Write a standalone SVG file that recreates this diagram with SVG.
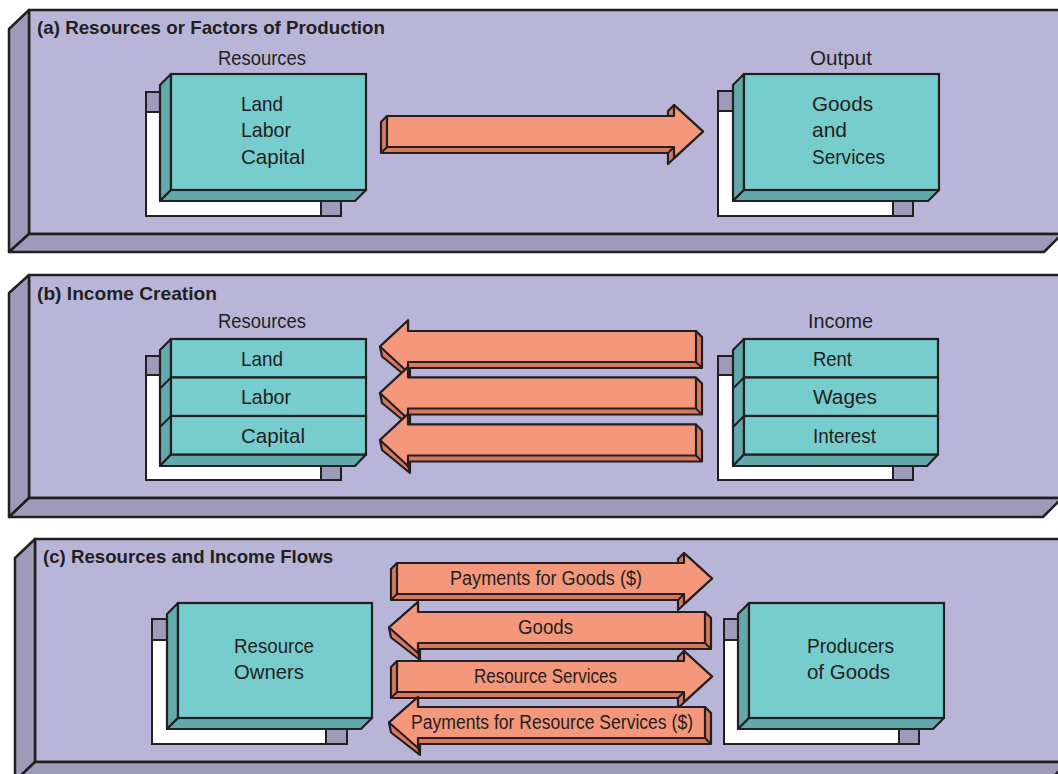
<svg xmlns="http://www.w3.org/2000/svg" width="1058" height="774" viewBox="0 0 1058 774">
<style>
.face{fill:#b9b5d9;stroke:#231f20;stroke-width:2.5}
.bev{fill:#9e9aba;stroke:#231f20;stroke-width:2.5;stroke-linejoin:round}
.sh{fill:#ffffff;stroke:#231f20;stroke-width:2}
.pq{fill:#9e9aba;stroke:#231f20;stroke-width:2}
.bf{fill:#77cccd;stroke:#231f20;stroke-width:2.2}
.bs{fill:#62a9ab;stroke:#231f20;stroke-width:2.2;stroke-linejoin:round}
.ln{fill:none;stroke:#231f20;stroke-width:2}
.af{fill:#f5977b;stroke:#231f20;stroke-width:2.2;stroke-linejoin:round}
.as{fill:#d8795f;stroke:#231f20;stroke-width:2.2;stroke-linejoin:round}
.t{font-family:"Liberation Sans",Arial,sans-serif;fill:#231f20}
.title{font-weight:bold;font-size:19px}
.lbl{font-size:20px}
.bx{font-size:21px}
.al{font-size:20px}
</style>
<rect width="1058" height="774" fill="#ffffff"/>

<!-- Panel (a) -->
<g id="panel-a">
<rect class="face" x="29" y="10" width="1033" height="224"/>
<polygon class="bev" points="29,10 9,29 9,252 29,234"/>
<polygon class="bev" points="29,234 1062,234 1044,252 9,252"/>
<text class="t title" x="37" y="34" textLength="348" lengthAdjust="spacingAndGlyphs">(a) Resources or Factors of Production</text>
</g>

<g id="node-a-resources">
<text class="t lbl" x="218" y="65" textLength="88" lengthAdjust="spacingAndGlyphs">Resources</text>
<rect class="sh" x="146" y="92" width="195" height="124"/>
<rect class="pq" x="146" y="92" width="14" height="20"/>
<rect class="pq" x="321" y="201" width="20" height="15"/>
<polygon class="bs" points="171,74 160,85 160,201 171,190"/>
<polygon class="bs" points="171,190 366,190 355,201 160,201"/>
<rect class="bf" x="171" y="74" width="195" height="116"/>
<text class="t bx" x="241" y="111" textLength="42" lengthAdjust="spacingAndGlyphs">Land</text>
<text class="t bx" x="241" y="137" textLength="50" lengthAdjust="spacingAndGlyphs">Labor</text>
<text class="t bx" x="241" y="164" textLength="64" lengthAdjust="spacingAndGlyphs">Capital</text>
</g>

<g id="node-a-output">
<text class="t lbl" x="810" y="65" textLength="62" lengthAdjust="spacingAndGlyphs">Output</text>
<rect class="sh" x="718" y="91" width="195" height="125"/>
<rect class="pq" x="718" y="91" width="15" height="20"/>
<rect class="pq" x="893" y="201" width="20" height="15"/>
<polygon class="bs" points="744,74 733,85 733,201 744,190"/>
<polygon class="bs" points="744,190 939,190 928,201 733,201"/>
<rect class="bf" x="744" y="74" width="195" height="116"/>
<text class="t bx" x="812" y="111" textLength="61" lengthAdjust="spacingAndGlyphs">Goods</text>
<text class="t bx" x="812" y="137" textLength="35" lengthAdjust="spacingAndGlyphs">and</text>
<text class="t bx" x="812" y="164" textLength="73" lengthAdjust="spacingAndGlyphs">Services</text>
</g>

<!-- Panel (b) -->
<g id="panel-b">
<rect class="face" x="29" y="275" width="1033" height="223"/>
<polygon class="bev" points="29,275 9,293 9,517 29,498"/>
<polygon class="bev" points="29,498 1062,498 1043,517 9,517"/>
<text class="t title" x="37" y="300" textLength="180" lengthAdjust="spacingAndGlyphs">(b) Income Creation</text>
</g>

<g id="node-b-resources">
<text class="t lbl" x="218" y="328" textLength="88" lengthAdjust="spacingAndGlyphs">Resources</text>
<rect class="sh" x="146" y="356" width="195" height="124"/>
<rect class="pq" x="146" y="356" width="14" height="19"/>
<rect class="pq" x="321" y="466" width="20" height="14"/>
<polygon class="bs" points="171,339 160,350 160,466 171,454.5"/>
<line class="ln" x1="171" y1="377.5" x2="160" y2="388.5"/>
<line class="ln" x1="171" y1="416" x2="160" y2="427"/>
<polygon class="bs" points="171,454.5 366,454.5 355,466 160,466"/>
<rect class="bf" x="171" y="339" width="195" height="38.5"/>
<rect class="bf" x="171" y="377.5" width="195" height="38.5"/>
<rect class="bf" x="171" y="416" width="195" height="38.5"/>
<text class="t bx" x="241" y="366" textLength="42" lengthAdjust="spacingAndGlyphs">Land</text>
<text class="t bx" x="241" y="404" textLength="50" lengthAdjust="spacingAndGlyphs">Labor</text>
<text class="t bx" x="241" y="443" textLength="64" lengthAdjust="spacingAndGlyphs">Capital</text>
</g>

<g id="node-b-income">
<text class="t lbl" x="808" y="328" textLength="65" lengthAdjust="spacingAndGlyphs">Income</text>
<rect class="sh" x="718" y="356" width="195" height="124"/>
<rect class="pq" x="718" y="356" width="15" height="19"/>
<rect class="pq" x="893" y="466" width="20" height="14"/>
<polygon class="bs" points="744,339 733,350 733,466 744,454.5"/>
<line class="ln" x1="744" y1="377.5" x2="733" y2="388.5"/>
<line class="ln" x1="744" y1="416" x2="733" y2="427"/>
<polygon class="bs" points="744,454.5 938,454.5 927,466 733,466"/>
<rect class="bf" x="744" y="339" width="194" height="38.5"/>
<rect class="bf" x="744" y="377.5" width="194" height="38.5"/>
<rect class="bf" x="744" y="416" width="194" height="38.5"/>
<text class="t bx" x="813" y="366" textLength="39" lengthAdjust="spacingAndGlyphs">Rent</text>
<text class="t bx" x="813" y="404" textLength="64" lengthAdjust="spacingAndGlyphs">Wages</text>
<text class="t bx" x="813" y="443" textLength="63" lengthAdjust="spacingAndGlyphs">Interest</text>
</g>

<!-- Panel (c) -->
<g id="panel-c">
<rect class="face" x="35" y="539" width="1033" height="223"/>
<polygon class="bev" points="35,539 15,558 15,781 35,762"/>
<polygon class="bev" points="35,762 1068,762 1049,781 15,781"/>
<text class="t title" x="43" y="563" textLength="290" lengthAdjust="spacingAndGlyphs">(c) Resources and Income Flows</text>
</g>

<g id="node-c-owners">
<rect class="sh" x="152" y="619" width="195" height="125"/>
<rect class="pq" x="152" y="619" width="15" height="21"/>
<rect class="pq" x="326" y="729" width="21" height="15"/>
<polygon class="bs" points="178,603 167,614 167,729 178,718"/>
<polygon class="bs" points="178,718 372,718 361,729 167,729"/>
<rect class="bf" x="178" y="603" width="194" height="115"/>
<text class="t bx" x="234" y="653" textLength="80" lengthAdjust="spacingAndGlyphs">Resource</text>
<text class="t bx" x="234" y="679" textLength="70" lengthAdjust="spacingAndGlyphs">Owners</text>
</g>

<g id="node-c-producers">
<rect class="sh" x="724" y="619" width="195" height="125"/>
<rect class="pq" x="724" y="619" width="14" height="21"/>
<rect class="pq" x="899" y="729" width="20" height="15"/>
<polygon class="bs" points="749,603 738,614 738,729 749,718"/>
<polygon class="bs" points="749,718 944,718 933,729 738,729"/>
<rect class="bf" x="749" y="603" width="195" height="115"/>
<text class="t bx" x="807" y="653" textLength="87" lengthAdjust="spacingAndGlyphs">Producers</text>
<text class="t bx" x="807" y="679" textLength="83" lengthAdjust="spacingAndGlyphs">of Goods</text>
</g>

<!-- Connectors -->
<g id="connectors">
<g id="arrow-a">
<polygon class="as" points="387,116 668,116 668,111 674,105 703,131.5 668,164 668,153 381,153 381,122"/>
<polygon class="af" points="387,116 674,116 674,105 703,131.5 674,158 674,147 387,147"/>
<line class="ln" x1="387" y1="147" x2="381" y2="153"/>
<line class="ln" x1="674" y1="147" x2="668" y2="153"/>
</g>
<g id="arrow-b1">
<polygon class="as" points="380,346.5 408,320.5 408,331 696,331 702,337 702,368 410,368 410,379.5 382,356.5"/>
<polygon class="af" points="380,346.5 408,320.5 408,331 696,331 696,362 408,362 408,372.5"/>
<line class="ln" x1="696" y1="362" x2="702" y2="368"/>
<line class="ln" x1="408" y1="372.5" x2="410" y2="379.5"/>
</g>
<g id="arrow-b2">
<polygon class="as" points="380,393 408,367 408,377.5 696,377.5 702,383.5 702,414.5 410,414.5 410,426 382,403"/>
<polygon class="af" points="380,393 408,367 408,377.5 696,377.5 696,408.5 408,408.5 408,419"/>
<line class="ln" x1="696" y1="408.5" x2="702" y2="414.5"/>
<line class="ln" x1="408" y1="419" x2="410" y2="426"/>
</g>
<g id="arrow-b3">
<polygon class="as" points="380,440 408,414 408,424.5 696,424.5 702,430.5 702,461.5 410,461.5 410,473 382,450"/>
<polygon class="af" points="380,440 408,414 408,424.5 696,424.5 696,455.5 408,455.5 408,466"/>
<line class="ln" x1="696" y1="455.5" x2="702" y2="461.5"/>
<line class="ln" x1="408" y1="466" x2="410" y2="473"/>
</g>
<g id="arrow-c1">
<polygon class="as" points="397,563 678,563 678,559 684,553 712,578.5 678,610 678,600 391,600 391,569"/>
<polygon class="af" points="397,563 684,563 684,553 712,578.5 684,604 684,594 397,594"/>
<line class="ln" x1="397" y1="594" x2="391" y2="600"/>
<line class="ln" x1="684" y1="594" x2="678" y2="600"/>
<text class="t al" x="450" y="585" textLength="192" lengthAdjust="spacingAndGlyphs">Payments for Goods ($)</text>
</g>
<g id="arrow-c2">
<polygon class="as" points="389,627.5 418,602 418,612 705,612 711,618 711,649 420,649 420,660 391,637.5"/>
<polygon class="af" points="389,627.5 418,602 418,612 705,612 705,643 418,643 418,653"/>
<line class="ln" x1="705" y1="643" x2="711" y2="649"/>
<line class="ln" x1="418" y1="653" x2="420" y2="660"/>
<text class="t al" x="518" y="634" textLength="55" lengthAdjust="spacingAndGlyphs">Goods</text>
</g>
<g id="arrow-c3">
<polygon class="as" points="397,661 678,661 678,657 684,651 712,676.5 678,708 678,698 391,698 391,667"/>
<polygon class="af" points="397,661 684,661 684,651 712,676.5 684,702 684,692 397,692"/>
<line class="ln" x1="397" y1="692" x2="391" y2="698"/>
<line class="ln" x1="684" y1="692" x2="678" y2="698"/>
<text class="t al" x="474" y="683" textLength="143" lengthAdjust="spacingAndGlyphs">Resource Services</text>
</g>
<g id="arrow-c4">
<polygon class="as" points="389,722.5 418,697 418,707 705,707 711,713 711,744 420,744 420,755 391,732.5"/>
<polygon class="af" points="389,722.5 418,697 418,707 705,707 705,738 418,738 418,748"/>
<line class="ln" x1="705" y1="738" x2="711" y2="744"/>
<line class="ln" x1="418" y1="748" x2="420" y2="755"/>
<text class="t al" x="411" y="729" textLength="282" lengthAdjust="spacingAndGlyphs">Payments for Resource Services ($)</text>
</g>
</g>
</svg>
